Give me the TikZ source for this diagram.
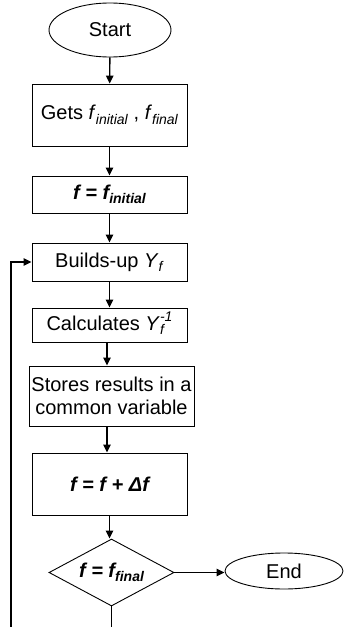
\documentclass[tikz,border=0pt]{standalone}
\usepackage{fontspec}
\setmainfont{Liberation Sans}
\usetikzlibrary{shapes.geometric,arrows.meta}
\newcommand\sbx[1]{\raisebox{-4.5pt}{\fontsize{14}{14}\selectfont #1}}
\newcommand\sbsp[2]{\raisebox{-4.5pt}{\fontsize{14}{11}\selectfont\begin{tabular}[b]{@{}l@{}}#2\\#1\end{tabular}}}
\begin{document}
\begin{tikzpicture}[x=1pt,y=-1pt,
  every node/.style={font=\fontsize{20}{22.5}\selectfont, inner sep=0pt, align=center},
  boxx/.style={draw, line width=0.9pt, rectangle, minimum width=155pt},
  ovalx/.style={draw, line width=0.9pt, ellipse},
  decx/.style={draw, line width=0.9pt, diamond, shape aspect=1.87, minimum width=125pt, minimum height=67pt},
  arr/.style={line width=1.4pt, -{Triangle[length=8pt,width=7.5pt]}},
  lin/.style={line width=1.4pt}]
\useasboundingbox (0,0) rectangle (344,627);
\clip (0,0) rectangle (344,627);
\node[ovalx, minimum width=122pt, minimum height=54pt] (start) at (110,30) {Start};
\node[boxx, minimum height=62pt] (gets) at (109.5,115) {Gets \textit{f}\sbx{\textit{initial}} , \textit{f}\sbx{\textit{final}}};
\node[boxx, minimum height=37pt] (init) at (109.5,194.5) {\bfseries\itshape f = f\sbx{initial}};
\node[boxx, minimum height=38pt] (build) at (109.5,262) {Builds-up \textit{Y}\sbx{\textit{f}}};
\node[boxx, minimum height=34pt] (calc) at (109.5,325) {Calculates \textit{Y}\sbsp{\textit{f}}{\textit{-1}}};
\node[boxx, minimum width=165pt, minimum height=60pt] (store) at (111.5,396) {Stores results in a\\common variable};
\node[boxx, minimum height=62pt] (incr) at (109.5,484) {\bfseries\itshape f = f + Δf};
\node[decx] (dec) at (111.5,572.5) {\bfseries\itshape f = f\sbx{final}};
\node[ovalx, minimum width=118pt, minimum height=36pt] (end) at (284,571) {End};
\coordinate (loopb) at (11,660);
\draw[arr] (start) -- (gets);
\draw[arr] (gets) -- (init);
\draw[arr] (init) -- (build);
\draw[arr] (build) -- (calc);
\draw[arr] ([xshift=-2.5pt]calc.south) -- ([xshift=-4.5pt]store.north);
\draw[arr] ([xshift=-4.5pt]store.south) -- ([xshift=-2.5pt]incr.north);
\draw[arr] (incr.south) -- (incr.south |- dec.north);
\draw[arr] (dec.east) -- (dec.east -| end.west);
\draw[arr] (dec.south) |- (loopb) |- (build.west);
\end{tikzpicture}
\end{document}
